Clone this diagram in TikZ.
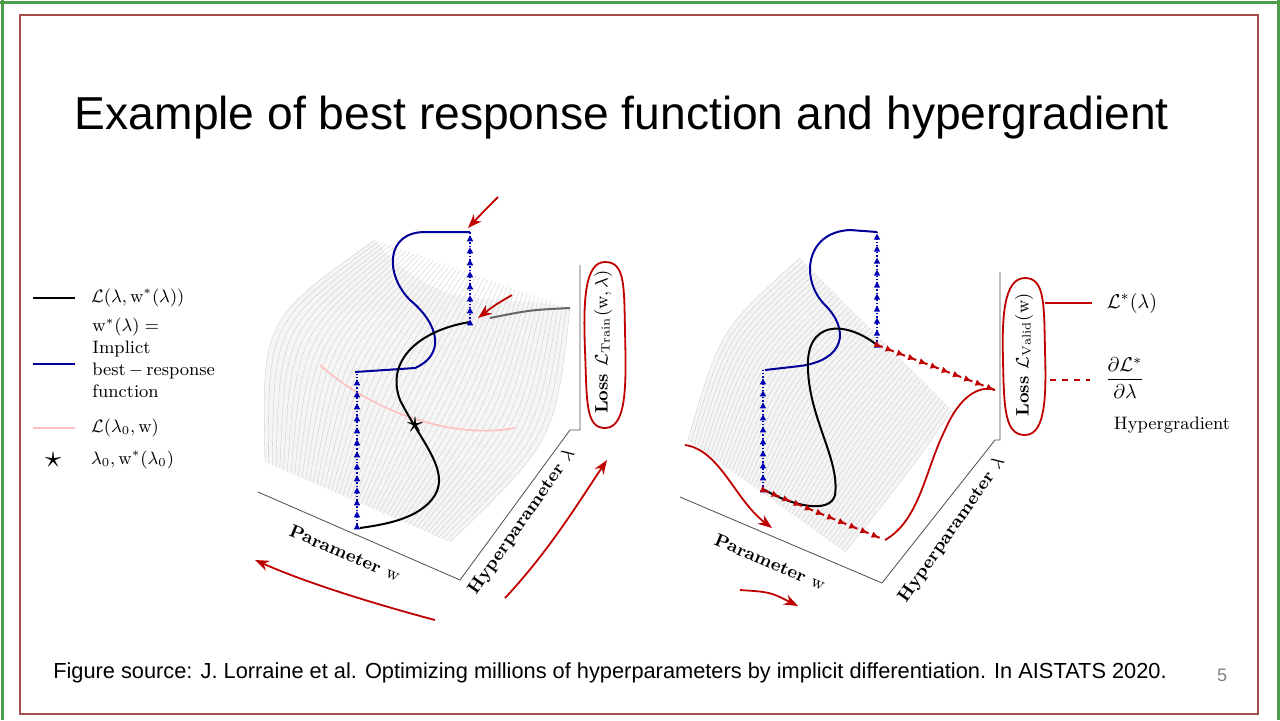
\documentclass[tikz,border=0pt]{standalone}
\usepackage{fontspec}
\usepackage{amsmath}
\newfontfamily\slidefont{Liberation Sans}
\usetikzlibrary{arrows.meta, calc, decorations.markings}

\begin{document}
\begin{tikzpicture}[
    x=0.5pt, y=-0.5pt,
    mesh/.style={gray!45, line width=0.15pt},
    axis/.style={black!70, line width=0.4pt},
    resp/.style={blue!60!black, line width=1pt},
    loss/.style={black, line width=1pt},
    slice/.style={red!25, line width=0.8pt},
    ink/.style={red!75!black, line width=0.9pt},
    upmark/.style={densely dotted, line width=0.7pt, #1, decoration={markings,
        mark=between positions 0.03 and 1 step 6pt with {\arrow[#1]{Triangle[length=3pt,width=3pt]}}},
        postaction=decorate},
    lab/.style={font=\bfseries\small},
    leg/.style={font=\small, anchor=west, align=left},
    >=Stealth
]
\useasboundingbox (0,0) rectangle (1280,720);

% slide frame
\draw[green!45!black!70, line width=1.5pt] (0,2) -- (1280,2);
\draw[green!45!black!70, line width=1.5pt] (2,0) -- (2,720);
\draw[green!45!black!70, line width=1.5pt] (1278,0) -- (1278,720);
\draw[red!50!black!70, line width=0.8pt] (20,15) rectangle (1258,714);

% title and source
\node[font=\slidefont\fontsize{23.1}{27}\selectfont] (title) at (622,118) {Example of best response function and hypergradient};
\node[font=\slidefont\fontsize{10.9}{13}\selectfont] (source) at (610,673) {Figure source: J. Lorraine et al. Optimizing millions of hyperparameters by implicit differentiation. In AISTATS 2020.};
\node[font=\slidefont\fontsize{9}{10}\selectfont, gray] (page) at (1222,675) {5};

% Legend
\draw[black, line width=0.8pt] (33,298) -- (75,298);
\node[leg] (legloss) at (84,298) {$\mathcal{L}(\lambda,\mathrm{w}^{*}(\lambda))$};
\draw[resp, line width=0.8pt] (33,364) -- (75,364);
\node[leg, anchor=north west, inner sep=0pt] (legresp) at (92,318) {$\mathrm{w}^{*}(\lambda)=$\\Implict\\best\,$-$\,response\\function};
\draw[slice] (33,428) -- (75,428);
\node[leg] (legslice) at (84,428) {$\mathcal{L}(\lambda_0,\mathrm{w})$};
\node[scale=1.6] (legstar) at (53,460) {$\star$};
\node[leg] (legpoint) at (84,460) {$\lambda_0,\mathrm{w}^{*}(\lambda_0)$};

% Left surface: train loss
\coordinate (lf1) at (265,462); \coordinate (lb1) at (375,240); \coordinate (lc1) at (262,320);
\coordinate (lf2) at (450,542); \coordinate (lb2) at (570,308); \coordinate (lc2) at (555,440);
\fill[gray!8] (lf1) .. controls (lc1) .. (lb1) .. controls (440,320) and (500,290) .. (lb2)
    .. controls (lc2) .. (lf2) -- cycle;
\foreach \t in {0,0.02,...,1.001}
    \draw[mesh] ($(lf1)!\t!(lf2)$) .. controls ($(lc1)!\t!(lc2)$) .. ($(lb1)!\t!(lb2)$);
\draw[black!60, line width=1pt] (490,318) .. controls (530,310) .. (lb2);

\draw[axis] (258,492) -- (460,580) -- (570,430) -- (580,430) -- (580,265);
\node[lab, rotate=-23] (lparam) at (345,553) {Parameter $\mathrm{w}$};
\node[lab, rotate=55] (lhyper) at (522,522) {Hyperparameter $\lambda$};
\node[lab, rotate=90] (lloss) at (603,342) {Loss $\mathcal{L}_{\mathrm{Train}}(\mathrm{w},\lambda)$};

\draw[slice] (320,365) .. controls (370,410) and (450,440) .. (515,428);
\draw[resp] (470,232) -- (425,232) .. controls (385,232) and (385,275) .. (410,300)
    .. controls (440,325) and (445,355) .. (415,368) -- (355,372);
\draw[loss] (470,322) .. controls (420,330) and (385,360) .. (400,400)
    .. controls (420,440) and (450,470) .. (435,495) .. controls (420,520) and (380,525) .. (360,528);
\draw[upmark=blue!70!black] (470,322) -- (470,232);
\draw[upmark=blue!70!black] (357,528) -- (357,372);
\node[scale=1.6] (lstar) at (415,425) {$\star$};

% red ink, left
\draw[ink, ->] (498,197) .. controls (485,210) .. (468,228);
\draw[ink, ->] (512,295) .. controls (495,305) .. (478,318);
\draw[ink] (605,262) .. controls (585,262) and (583,300) .. (585,350) .. controls (587,400) and (585,428) .. (605,428)
    .. controls (628,428) and (626,380) .. (625,330) .. controls (624,285) and (625,262) .. (605,262);
\draw[ink, ->] (435,620) .. controls (360,600) and (300,580) .. (255,560);
\draw[ink, ->] (505,598) .. controls (550,550) and (580,500) .. (607,460);

% Right surface: validation loss
\coordinate (rf1) at (688,440); \coordinate (rb1) at (800,258); \coordinate (rc1) at (720,330);
\coordinate (rf2) at (845,552); \coordinate (rb2) at (952,410); \coordinate (rc2) at (910,470);
\fill[gray!8] (rf1) .. controls (rc1) .. (rb1) -- (rb2) .. controls (rc2) .. (rf2) -- cycle;
\foreach \t in {0,0.02,...,1.001}
    \draw[mesh] ($(rf1)!\t!(rf2)$) .. controls ($(rc1)!\t!(rc2)$) .. ($(rb1)!\t!(rb2)$);

\draw[axis] (680,497) -- (882,583) -- (995,440) -- (1000,440) -- (1000,272);
\node[lab, rotate=-23] (rparam) at (770,562) {Parameter $\mathrm{w}$};
\node[lab, rotate=55] (rhyper) at (952,530) {Hyperparameter $\lambda$};
\node[lab, rotate=90] (rloss) at (1024,355) {Loss $\mathcal{L}_{\mathrm{Valid}}(\mathrm{w})$};

\draw[resp] (877,232) -- (850,230) .. controls (805,232) and (800,280) .. (825,305)
    .. controls (850,330) and (845,360) .. (800,366) -- (765,370);
\draw[loss] (877,345) .. controls (845,320) and (805,320) .. (808,370)
    .. controls (810,420) and (840,460) .. (835,495) .. controls (830,515) and (790,505) .. (765,490);
\draw[upmark=blue!70!black] (877,345) -- (877,232);
\draw[upmark=blue!70!black] (763,490) -- (763,370);
\coordinate (rtop) at (995,390);
\coordinate (rbot) at (885,540);
\draw[upmark=red!75!black, dashed, line width=1pt] (877,345) -- (rtop);
\draw[upmark=red!75!black, dashed, line width=1pt] (763,490) -- (rbot);

% red ink, right
\draw[ink] (rbot) .. controls (920,520) and (925,470) .. (945,430) .. controls (960,395) and (980,385) .. (rtop);
\draw[ink, ->] (685,445) .. controls (720,450) and (735,500) .. (772,528);
\draw[ink, ->] (740,590) .. controls (770,592) .. (798,606);
\draw[ink] (1025,278) .. controls (1003,278) and (1002,320) .. (1003,360) .. controls (1004,410) and (1005,435) .. (1025,435)
    .. controls (1047,435) and (1046,390) .. (1045,350) .. controls (1044,305) and (1045,278) .. (1025,278);
\draw[ink] (1045,303) -- (1092,303);
\draw[ink, dashed] (1050,380) -- (1090,380);
\node (lstar2) at (1132,303) {$\mathcal{L}^{*}(\lambda)$};
\node (hgrad) at (1125,378) {$\dfrac{\partial\mathcal{L}^{*}}{\partial\lambda}$};
\node[font=\small] (hgradtxt) at (1172,425) {Hypergradient};
\end{tikzpicture}
\end{document}
